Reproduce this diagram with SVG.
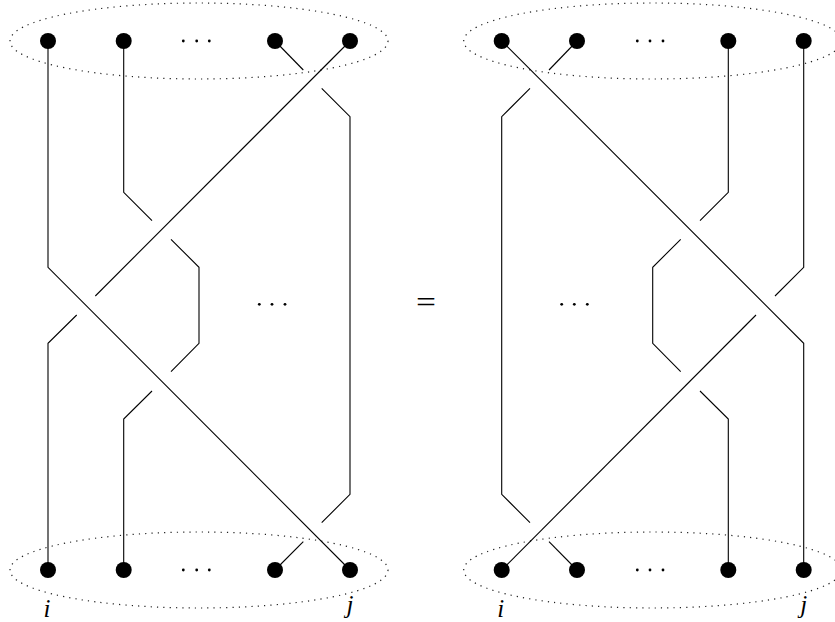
<svg xmlns="http://www.w3.org/2000/svg" width="835" height="622" viewBox="0 0 835 622">
<style>
.s{fill:none;stroke:#000;stroke-width:1.1;stroke-linejoin:miter}
.e{fill:none;stroke:#222;stroke-width:1.2;stroke-dasharray:1.2 5.1}
.n{fill:#000}
.d{fill:#000}
.lab{font-family:"Liberation Serif",serif;font-style:italic;font-size:25px}
</style>
<rect width="835" height="622" fill="#fff"/>
<g id="left">
<ellipse class="e" cx="199" cy="41" rx="189" ry="38"/>
<ellipse class="e" cx="199" cy="570" rx="189" ry="38"/>
<g id="connectors-left">
<polyline class="s" points="48,41 48,267.3 350,570"/>
<polyline class="s" points="123.7,41 123.7,192.3 152,220.7"/>
<polyline class="s" points="171,239.3 199,267.3 199,343.3 171,371.7"/>
<polyline class="s" points="152,391 123.7,419 123.7,570"/>
<polyline class="s" points="350,41 95.3,296"/>
<polyline class="s" points="76.7,315 48,343.3 48,570"/>
<polyline class="s" points="275,41 303.3,70"/>
<polyline class="s" points="321.7,88.3 350,116.7 350,494.3 321.7,522.7"/>
<polyline class="s" points="303.3,541.7 275,570"/>
</g>
<g id="nodes-left">
<circle id="lt1" class="n" cx="48" cy="41" r="8"/>
<circle id="lt2" class="n" cx="123.7" cy="41" r="8"/>
<circle id="lt3" class="n" cx="275" cy="41" r="8"/>
<circle id="lt4" class="n" cx="350" cy="41" r="8"/>
<circle id="lb1" class="n" cx="48" cy="570" r="8"/>
<circle id="lb2" class="n" cx="123.7" cy="570" r="8"/>
<circle id="lb3" class="n" cx="275" cy="570" r="8"/>
<circle id="lb4" class="n" cx="350" cy="570" r="8"/>
</g>
<g id="dots-left">
<circle class="d" cx="183.3" cy="41" r="1.4"/><circle class="d" cx="196.7" cy="41" r="1.4"/><circle class="d" cx="209.3" cy="41" r="1.4"/>
<circle class="d" cx="183.3" cy="570" r="1.4"/><circle class="d" cx="196.7" cy="570" r="1.4"/><circle class="d" cx="209.3" cy="570" r="1.4"/>
<circle class="d" cx="259.3" cy="304.3" r="1.4"/><circle class="d" cx="272" cy="304.3" r="1.4"/><circle class="d" cx="285" cy="304.3" r="1.4"/>
</g>
<text class="lab" x="47" y="617" text-anchor="middle">i</text>
<text class="lab" x="350" y="613" text-anchor="middle">j</text>
</g>
<text x="426" y="312" font-family="Liberation Serif, serif" font-size="30" text-anchor="middle" textLength="20" lengthAdjust="spacingAndGlyphs">=</text>
<g id="right">
<ellipse class="e" cx="652.7" cy="41" rx="189" ry="38"/>
<ellipse class="e" cx="652.7" cy="570" rx="189" ry="38"/>
<g id="connectors-right">
<polyline class="s" points="501.7,41 803.7,343.3 803.7,570"/>
<polyline class="s" points="803.7,41 803.7,267.3 775,296"/>
<polyline class="s" points="756,315 501.7,570"/>
<polyline class="s" points="577,41 549,70"/>
<polyline class="s" points="530,88.3 501.7,116.7 501.7,494.3 530,522.7"/>
<polyline class="s" points="549,541.7 577,570"/>
<polyline class="s" points="728.3,41 728.3,192.3 700,220.7"/>
<polyline class="s" points="680.7,239.3 652.7,267.3 652.7,343.3 680.7,371.7"/>
<polyline class="s" points="700,391 728.3,419 728.3,570"/>
</g>
<g id="nodes-right">
<circle id="rt1" class="n" cx="501.7" cy="41" r="8"/>
<circle id="rt2" class="n" cx="577" cy="41" r="8"/>
<circle id="rt3" class="n" cx="728.3" cy="41" r="8"/>
<circle id="rt4" class="n" cx="803.7" cy="41" r="8"/>
<circle id="rb1" class="n" cx="501.7" cy="570" r="8"/>
<circle id="rb2" class="n" cx="577" cy="570" r="8"/>
<circle id="rb3" class="n" cx="728.3" cy="570" r="8"/>
<circle id="rb4" class="n" cx="803.7" cy="570" r="8"/>
</g>
<g id="dots-right">
<circle class="d" cx="637.3" cy="41" r="1.4"/><circle class="d" cx="650" cy="41" r="1.4"/><circle class="d" cx="663" cy="41" r="1.4"/>
<circle class="d" cx="637.3" cy="570" r="1.4"/><circle class="d" cx="650" cy="570" r="1.4"/><circle class="d" cx="663" cy="570" r="1.4"/>
<circle class="d" cx="561.7" cy="304.3" r="1.4"/><circle class="d" cx="574.3" cy="304.3" r="1.4"/><circle class="d" cx="587.3" cy="304.3" r="1.4"/>
</g>
<text class="lab" x="500.7" y="617" text-anchor="middle">i</text>
<text class="lab" x="803.7" y="613" text-anchor="middle">j</text>
</g>
</svg>
